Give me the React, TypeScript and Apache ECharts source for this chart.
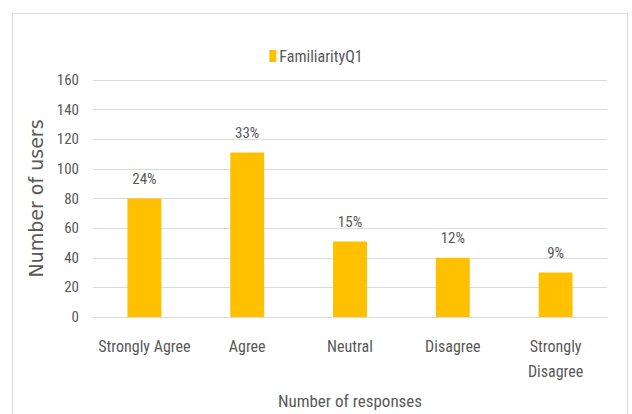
import React, { useEffect, useRef } from "react";
import * as echarts from "echarts";

const categories = ["Strongly Agree", "Agree", "Neutral", "Disagree", "Strongly\nDisagree"];
const values = [80, 111, 51, 40, 30];
const percentLabels = ["24%", "33%", "15%", "12%", "9%"];
const seriesName = "FamiliarityQ1";
const yTitle = "Number of users";
const xTitle = "Number of responses";

const NARROW = "'Liberation Sans Narrow', 'Arial Narrow', 'Roboto Condensed', Roboto, sans-serif";
const GRAY = "#595959";

export default function App() {
  const ref = useRef<HTMLDivElement>(null);
  useEffect(() => {
    document.body.style.margin = "0";
    if (!ref.current) return;
    const chart = echarts.init(ref.current, null, { renderer: "svg" });
    chart.setOption({
      animation: false,
      backgroundColor: "#ffffff",
      graphic: [
        {
          type: "rect",
          shape: { x: 12.5, y: 13.5, width: 615, height: 420 },
          style: { fill: "none", stroke: "#d9d9d9", lineWidth: 1 },
          silent: true,
        },
      ],
      legend: {
        data: [seriesName],
        top: 43,
        left: "center",
        itemWidth: 7,
        itemHeight: 12,
        itemGap: 4,
        icon: "rect",
        textStyle: { color: GRAY, fontFamily: NARROW, fontSize: 16, padding: [0, 0, 0, -2] },
      },
      grid: { left: 93, right: 25, top: 80, bottom: 95 },
      xAxis: {
        type: "category",
        data: categories,
        axisLine: { show: true, lineStyle: { color: "#d9d9d9", width: 1 } },
        axisTick: { show: false },
        axisLabel: {
          color: GRAY,
          fontFamily: NARROW,
          fontSize: 16,
          margin: 17,
          lineHeight: 25,
          interval: 0,
        },
        name: xTitle,
        nameLocation: "middle",
        nameGap: 75,
        nameTextStyle: { color: GRAY, fontFamily: NARROW, fontSize: 17 },
      },
      yAxis: {
        type: "value",
        min: 0,
        max: 160,
        interval: 20,
        axisLine: { show: false },
        axisTick: { show: false },
        splitLine: { lineStyle: { color: "#d9d9d9", width: 1 } },
        axisLabel: { color: GRAY, fontFamily: NARROW, fontSize: 15, margin: 14 },
        name: yTitle,
        nameLocation: "middle",
        nameGap: 46,
        nameRotate: 90,
        nameTextStyle: { color: GRAY, fontFamily: "'DejaVu Sans', sans-serif", fontSize: 19 },
      },
      series: [
        {
          name: seriesName,
          type: "bar",
          data: values,
          barWidth: "33%",
          itemStyle: { color: "#ffc000" },
          label: {
            show: true,
            position: "top",
            distance: 12,
            color: GRAY,
            fontFamily: NARROW,
            fontSize: 15,
            formatter: (p: any) => percentLabels[p.dataIndex],
          },
        },
      ],
    });
    return () => chart.dispose();
  }, []);
  return <div ref={ref} style={{ width: 632, height: 414 }} />;
}
